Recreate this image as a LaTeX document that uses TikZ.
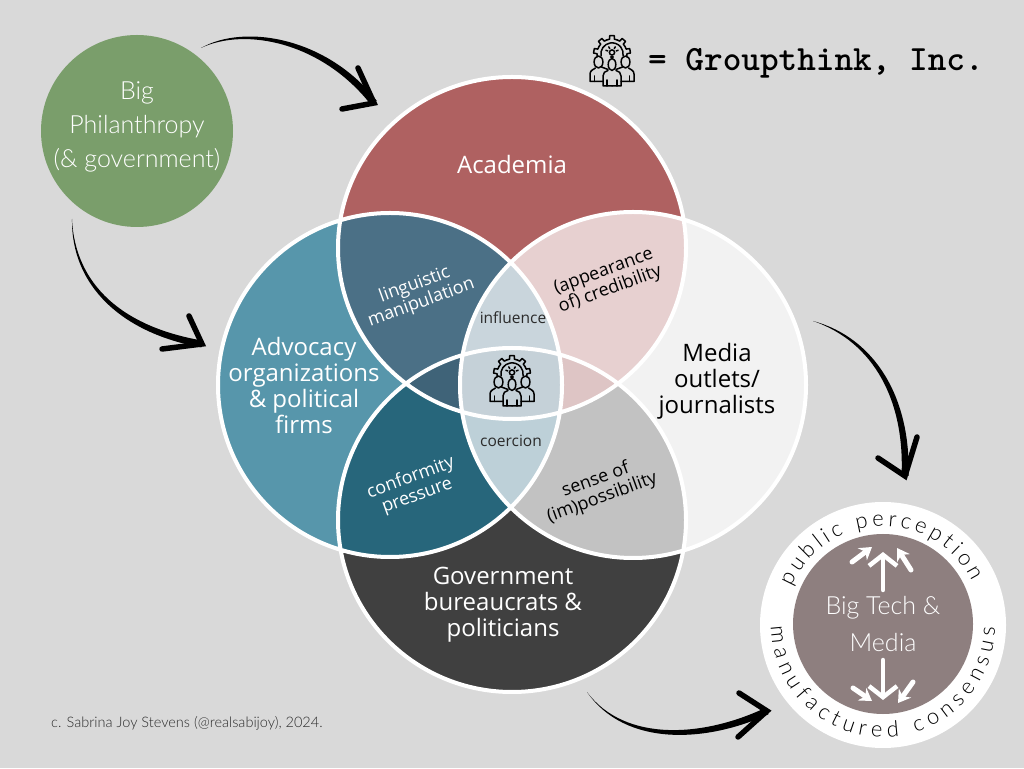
\documentclass[tikz,border=0pt]{standalone}
\usepackage{fontspec}
\setmainfont{Open Sans}
\newfontfamily\thinfont{Lato Light}
\usetikzlibrary{arrows.meta,decorations.text}

\definecolor{bgc}{HTML}{D9D9D9}
\definecolor{philc}{HTML}{7A9E6B}
\definecolor{acadc}{HTML}{AF6161}
\definecolor{advoc}{HTML}{5796AB}
\definecolor{mediac}{HTML}{F2F2F2}
\definecolor{govc}{HTML}{404040}
\definecolor{acadadvo}{HTML}{4B7086}
\definecolor{acadmedia}{HTML}{E7D0D0}
\definecolor{advogov}{HTML}{27667B}
\definecolor{mediagov}{HTML}{C2C2C2}
\definecolor{influ}{HTML}{C9D5DC}
\definecolor{coerc}{HTML}{BDD0D8}
\definecolor{acadadvogov}{HTML}{3F6378}
\definecolor{acadmediagov}{HTML}{DEC5C5}
\definecolor{allfour}{HTML}{C5D1D8}
\definecolor{techc}{HTML}{8E7F7F}
\definecolor{darktext}{HTML}{2B2B2B}

\def\cAcad{(512,520) ellipse (174pt and 171pt)}
\def\cAdvo{(390,383) circle (172pt)}
\def\cMedia{(633,383) circle (173pt)}
\def\cGov{(512,248) ellipse (174pt and 172pt)}

\newcommand{\region}[2]{\begin{scope}#2\fill[#1] (0,0) rectangle (1024,768);\end{scope}}

\tikzset{
    x=1pt, y=1pt,
    bigtext/.style={align=center, text=white, font=\fontsize{24}{26}\selectfont},
    lenstext/.style={align=center, rotate=20, font=\fontsize{18}{19}\selectfont},
    smalltext/.style={text=darktext, font=\fontsize{15.5}{17}\selectfont},
    tipstraight/.style={line width=4.5pt, line cap=round, white, -{Straight Barb[length=11pt,width=28pt]}},
    tipsmall/.style={line width=5pt, line cap=round, white, -{Stealth[length=12pt,width=15pt]}},
    barb/.style={line width=5.5pt, line cap=round, line join=miter},
    groupicon/.pic={
        \begin{scope}[line width=1.5pt, line cap=round, line join=round]
            \foreach \a in {10,50,90,130,170} {
                \draw ([shift={(0,7)}]\a-20:15) arc[start angle=\a-20, end angle=\a-9, radius=15]
                    -- ([shift={(0,7)}]\a-7:18.5) arc[start angle=\a-7, end angle=\a+7, radius=18.5]
                    -- ([shift={(0,7)}]\a+9:15) arc[start angle=\a+9, end angle=\a+20, radius=15];
            }
            \draw (-11,5) arc[start angle=190, end angle=-10, radius=11.2];
            \draw (0,8.5) circle (2.6pt);
            \draw (-1.3,4) -- (1.3,4);
            \foreach \a in {20,60,120,160} {
                \draw ([shift={(0,8.5)}]\a:4.5) -- ([shift={(0,8.5)}]\a:6.5);
            }
            \foreach \s in {-1,1} {
                \begin{scope}[xscale=\s]
                    \draw (13.5,-1) ellipse (4.4pt and 6pt);
                    \draw (9,-20.5) -- (22,-20.5) -- (22,-13) .. controls (22,-9) and (18,-8.5) .. (16.5,-7);
                    \draw (10.5,-6) -- (4,-8.5);
                    \draw (17.5,-20.5) -- (17.5,-15);
                    \draw (4,-9.5) .. controls (7,-10) and (9,-12) .. (9,-15) -- (9,-25) -- (0,-25);
                    \draw (5,-25) -- (5,-19);
                \end{scope}
            }
            \draw (0,-3.5) ellipse (3.8pt and 6pt);
        \end{scope}
    }
}

\begin{document}
\begin{tikzpicture}
        \useasboundingbox (0,0) rectangle (1024,768);
        \fill[bgc] (0,0) rectangle (1024,768);
        \fill[acadc] \cAcad;
        \fill[advoc] \cAdvo;
        \fill[mediac] \cMedia;
        \fill[govc] \cGov;
        \region{acadadvo}{\clip \cAcad;\clip \cAdvo;}
        \region{acadmedia}{\clip \cAcad;\clip \cMedia;}
        \region{advogov}{\clip \cAdvo;\clip \cGov;}
        \region{mediagov}{\clip \cMedia;\clip \cGov;}
        \region{influ}{\clip \cAcad;\clip \cAdvo;\clip \cMedia;}
        \region{coerc}{\clip \cGov;\clip \cAdvo;\clip \cMedia;}
        \region{acadadvogov}{\clip \cAcad;\clip \cAdvo;\clip \cGov;}
        \region{acadmediagov}{\clip \cAcad;\clip \cMedia;\clip \cGov;}
        \region{allfour}{\clip \cAcad;\clip \cAdvo;\clip \cMedia;\clip \cGov;}
        \draw[white, line width=4pt] \cAcad \cAdvo \cMedia \cGov;
        \node[bigtext] (academia) at (512,603) {Academia};
        \node[bigtext] (advocacy) at (304,382) {Advocacy\\organizations\\\& political\\firms};
        \node[bigtext, text=black] (media) at (717,387) {Media\\outlets/\\journalists};
        \node[bigtext] (government) at (503,163) {Government\\bureaucrats \&\\politicians};
        \node[lenstext, text=white] (linguistic) at (418,474) {linguistic\\manipulation};
        \node[lenstext, text=black] (credibility) at (607,487) {(appearance\\of) credibility};
        \node[lenstext, text=white] (conformity) at (414,281) {conformity\\pressure};
        \node[lenstext, text=black] (possibility) at (599,279) {sense of\\(im)possibility};
        \node[smalltext] (influence) at (513,450) {influence};
        \node[smalltext] (coercion) at (511,327) {coercion};
        \pic at (512,387) {groupicon};
        \pic at (612,707) {groupicon};
        \node[anchor=west, inner sep=0pt, font=\ttfamily\bfseries\fontsize{35.5}{36}\selectfont] (title) at (648,705) {= Groupthink, Inc.};
        \node[circle, fill=philc, minimum size=192pt] (philcircle) at (137,637) {};
        \node[align=center, text=white, font=\thinfont\fontsize{25}{34}\selectfont] (phillabel) at (137,641) {Big\\Philanthropy\\(\& government)};
        \node[circle, fill=white, minimum size=246pt] (ring) at (883,143) {};
        \node[circle, fill=techc, minimum size=180pt, align=center, text=white, font=\thinfont\fontsize{25}{37}\selectfont] (bigtech) at (883,144) {Big Tech \&\\Media};
        \path[decorate, decoration={text along path, text align=fit to path, text={|\thinfont\fontsize{22}{22}\selectfont|public perception}}]
            (ring.center) ++(157:99pt) arc[start angle=157, end angle=26, radius=99pt];
        \path[decorate, decoration={text along path, text align=fit to path, text={|\thinfont\fontsize{22}{22}\selectfont|manufactured consensus}}]
            (ring.center) ++(181:112pt) arc[start angle=181, end angle=359, radius=112pt];
        \coordinate (upa) at (883,178);
        \coordinate (upb) at (883,216);
        \coordinate (upc) at (852,206);
        \coordinate (upd) at (872,221);
        \coordinate (upe) at (911,198);
        \coordinate (upf) at (897,220);
        \coordinate (downa) at (883,108);
        \coordinate (downb) at (883,68);
        \coordinate (downc) at (853,80);
        \coordinate (downd) at (872,67);
        \coordinate (downe) at (913,86);
        \coordinate (downf) at (898,65);
        \draw[tipstraight] (upa) -- (upb);
        \draw[tipsmall] (upc) -- (upd);
        \draw[tipsmall] (upe) -- (upf);
        \draw[tipstraight] (downa) -- (downb);
        \draw[tipsmall] (downc) -- (downd);
        \draw[tipsmall] (downe) -- (downf);
        \coordinate (tailacad) at (201,720);
        \coordinate (headacad) at (374,665);
        \coordinate (tailadvo) at (72,549);
        \coordinate (headadvo) at (202,424);
        \coordinate (tailmedia) at (813,447);
        \coordinate (headmedia) at (905,292);
        \coordinate (tailgov) at (587,76);
        \coordinate (headgov) at (767,57);
        \fill (tailacad) .. controls (245,745) and (328,730) .. ([shift={(2.8,2.1)}]headacad) -- ([shift={(-2.8,-2.1)}]headacad) .. controls (322,726) and (245,741) .. (tailacad);
        \draw[barb] (358,700) -- (headacad) -- (342,659);
        \fill (tailadvo) .. controls (75,483) and (123,441) .. ([shift={(0.6,3.4)}]headadvo) -- ([shift={(-0.6,-3.4)}]headadvo) .. controls (121,435) and (71,483) .. (tailadvo);
        \draw[barb] (189,452) -- (headadvo) -- (162,419);
        \fill (tailmedia) .. controls (876,430) and (911,369) .. ([shift={(3.5,0)}]headmedia) -- ([shift={(-3.5,0)}]headmedia) .. controls (905,367) and (874,426) .. (tailmedia);
        \draw[barb] (917,331) -- (headmedia) -- (878,310);
        \fill (tailgov) .. controls (625,25) and (704,31) .. ([shift={(-1.5,3.2)}]headgov) -- ([shift={(1.5,-3.2)}]headgov) .. controls (706,25) and (625,21) .. (tailgov);
        \draw[barb] (739,75) -- (headgov) -- (738,31);
        \node[anchor=west, inner sep=0pt, text=darktext, font=\thinfont\fontsize{14.5}{16}\selectfont] (credit) at (51,45) {c. Sabrina Joy Stevens (@realsabijoy), 2024.};
    \end{tikzpicture}
\end{document}
